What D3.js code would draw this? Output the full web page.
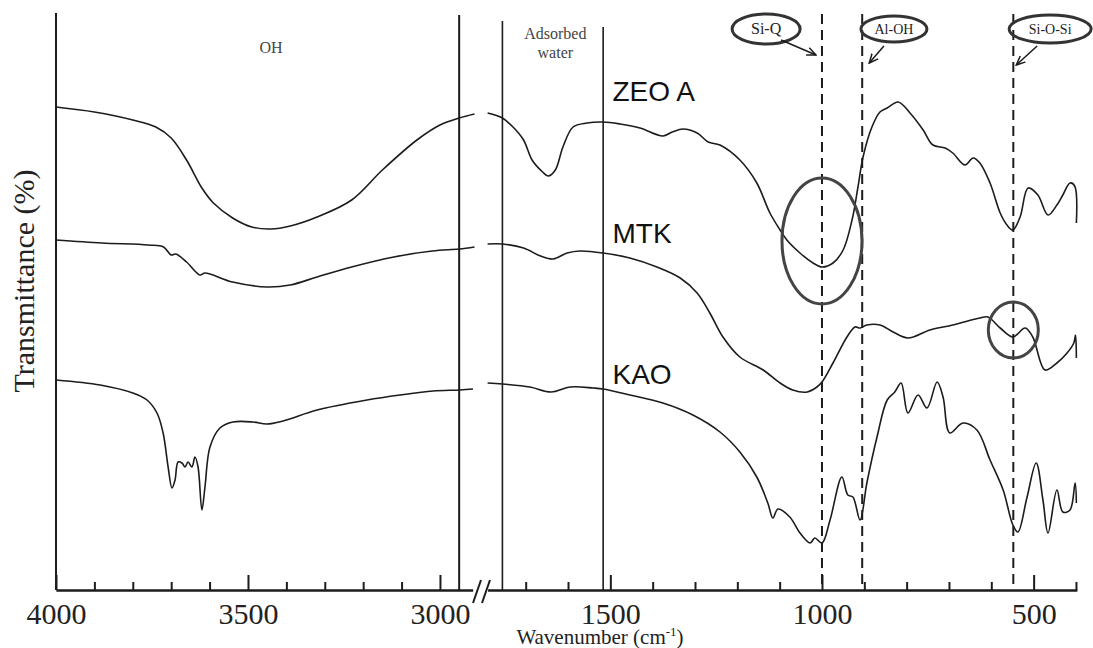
<!DOCTYPE html>
<html>
<head>
<meta charset="utf-8">
<script src="https://cdnjs.cloudflare.com/ajax/libs/d3/7.8.5/d3.min.js"></script>
<style>
  body { margin: 0; background: #fff; }
  svg { display: block; }
</style>
</head>
<body>
<div id="chart"></div>
<script>
// FTIR spectra, [wavenumber cm-1, transmittance (offset, a.u.)]
const zeoLeft = [[4000,48.3],[3900,47.8],[3800,47.0],[3740,46.3],[3700,45.2],[3660,43.0],[3620,40.2],[3590,38.7],[3540,37.2],[3490,36.3],[3440,36.1],[3390,36.4],[3320,37.3],[3230,39.0],[3150,42.0],[3060,45.0],[3000,46.5],[2950,47.2],[2910,47.6]];
const mtkLeft = [[4000,35.0],[3880,34.7],[3760,34.5],[3720,34.3],[3700,33.5],[3688,33.6],[3660,32.8],[3625,31.5],[3612,31.7],[3540,30.8],[3450,30.3],[3390,30.5],[3320,31.3],[3230,32.3],[3120,33.3],[3020,33.9],[2950,34.1],[2910,34.3]];
const kaoLeft = [[4000,21.0],[3885,20.5],[3800,19.7],[3763,19.0],[3737,17.7],[3721,15.7],[3708,12.3],[3698,10.2],[3690,11.0],[3682,12.8],[3672,12.7],[3664,12.3],[3656,12.8],[3646,12.3],[3638,13.3],[3630,12.3],[3620,8.0],[3612,10.3],[3599,14.3],[3573,16.2],[3539,16.8],[3487,16.8],[3451,16.6],[3409,16.9],[3320,18.0],[3190,19.0],[3104,19.5],[3018,19.9],[2948,20.0],[2914,20.1]];

const zeoRight = [[1790,47.7],[1755,47.2],[1730,46.3],[1705,45.0],[1685,43.0],[1660,41.8],[1647,41.4],[1630,42.0],[1612,44.3],[1588,46.3],[1555,46.7],[1517,46.8],[1477,46.6],[1430,46.2],[1376,45.4],[1354,45.8],[1328,46.1],[1295,45.7],[1269,44.8],[1241,44.5],[1194,43.0],[1154,40.7],[1123,37.7],[1099,36.0],[1083,35.0],[1052,33.7],[1021,32.7],[1000,32.3],[974,32.7],[950,34.0],[929,37.0],[915,40.3],[903,43.3],[882,46.3],[863,47.8],[846,48.2],[820,48.8],[792,47.7],[761,46.0],[738,44.5],[709,44.2],[691,43.7],[662,42.5],[643,43.2],[627,42.7],[603,40.7],[579,37.7],[563,36.5],[549,36.0],[532,37.3],[513,40.2],[490,39.5],[466,37.5],[445,38.5],[431,39.5],[414,40.7],[403,40.4],[399,36.7]];
const mtkRight = [[1790,34.6],[1755,34.6],[1705,34.2],[1665,33.4],[1635,33.1],[1602,33.7],[1572,33.9],[1517,33.7],[1454,33.2],[1390,32.3],[1335,31.2],[1295,29.7],[1265,27.7],[1234,25.3],[1194,23.3],[1139,22.0],[1099,20.7],[1069,20.0],[1035,19.8],[1012,20.3],[1000,20.8],[974,22.7],[941,25.3],[922,26.3],[910,26.2],[894,26.5],[863,26.5],[832,25.8],[797,25.2],[745,26.0],[691,26.5],[627,27.2],[608,27.3],[579,26.2],[549,25.3],[520,26.2],[502,25.3],[473,22.0],[445,22.7],[421,23.7],[405,24.7],[401,25.5],[399,23.2]];
const kaoRight = [[1790,20.7],[1755,20.6],[1690,20.3],[1640,19.8],[1595,20.3],[1540,20.2],[1517,20.1],[1454,19.5],[1376,18.7],[1305,17.5],[1241,15.8],[1194,13.8],[1154,11.3],[1128,8.7],[1116,7.2],[1104,8.1],[1076,7.3],[1052,5.7],[1028,4.7],[1017,5.2],[1000,4.7],[981,7.0],[953,11.3],[939,9.5],[927,9.3],[910,7.0],[894,10.7],[870,15.3],[846,19.0],[828,19.8],[813,20.7],[797,17.7],[773,19.5],[752,18.2],[728,20.8],[714,19.3],[698,15.7],[667,16.7],[634,16.0],[603,13.0],[572,10.0],[549,6.5],[537,5.8],[516,9.2],[494,12.7],[478,9.0],[466,5.7],[445,10.0],[431,7.8],[414,8.0],[402,10.7],[399,8.7]];

const sampleNames = ["ZEO A", "MTK", "KAO"];
const leftMajor = [4000, 3500, 3000];
const leftMinor = [3900, 3800, 3700, 3600, 3400, 3300, 3200, 3100];
const rightMajor = [1500, 1000, 500];
const rightMinor = [1700, 1600, 1400, 1300, 1200, 1100, 900, 800, 700, 600, 400];
const bandBounds = [2950, 1755, 1517];           // solid region lines
const bandNames = ["OH", "Adsorbed water"];
const peakLines = [1000, 905, 548];              // dashed assignment lines
const peakNames = ["Si-Q", "Al-OH", "Si-O-Si"];

const W = 1093, H = 648;
const svg = d3.select("#chart").append("svg").attr("width", W).attr("height", H);

const y = d3.scaleLinear().domain([0, 58]).range([590, 10]);
const xL = d3.scaleLinear().domain([4000, 2915]).range([56, 472.6]);
const xR = d3.scaleLinear().domain([1790, 398]).range([487.6, 1076.8]);

const serif = "'Liberation Serif', 'Times New Roman', serif";
const sans = "'Liberation Sans', Arial, sans-serif";
const ink = "#1c1c1c";

// axes
function axes(x, major, minor) {
  svg.append("g")
    .attr("transform", "translate(0,590)")
    .call(d3.axisBottom(x).tickValues(minor).tickSize(-8).tickSizeOuter(0).tickFormat(""))
    .call(g => g.selectAll("line, path").attr("stroke", ink).attr("stroke-width", 2));
  svg.append("g")
    .attr("transform", "translate(0,590)")
    .call(d3.axisBottom(x).tickValues(major).tickSize(-15).tickSizeOuter(0).tickPadding(13).tickFormat(d3.format("d")))
    .call(g => g.selectAll("line, path").attr("stroke", ink).attr("stroke-width", 2))
    .call(g => g.selectAll("text")
      .style("font-family", serif).style("font-size", "30px").attr("fill", "#222"));
}
axes(xL, leftMajor, leftMinor);
axes(xR, rightMajor, rightMinor);

// axis break
[0, 9].forEach(dx => {
  svg.append("line")
    .attr("x1", 473 + dx).attr("y1", 603).attr("x2", 481 + dx).attr("y2", 580)
    .attr("stroke", ink).attr("stroke-width", 2);
});

// left y axis + region boundaries
svg.append("line").attr("x1", xL(4000)).attr("x2", xL(4000)).attr("y1", 13).attr("y2", 590)
  .attr("stroke", ink).attr("stroke-width", 2);
svg.append("line").attr("x1", xL(bandBounds[0])).attr("x2", xL(bandBounds[0])).attr("y1", 15).attr("y2", 590)
  .attr("stroke", ink).attr("stroke-width", 2);
[[bandBounds[1], 21], [bandBounds[2], 27]].forEach(([w, top]) => {
  svg.append("line").attr("x1", xR(w)).attr("x2", xR(w)).attr("y1", top).attr("y2", 590)
    .attr("stroke", ink).attr("stroke-width", 1.6);
});
peakLines.forEach(w => {
  svg.append("line").attr("x1", xR(w)).attr("x2", xR(w)).attr("y1", 14).attr("y2", 590)
    .attr("stroke", ink).attr("stroke-width", 2).attr("stroke-dasharray", "10,6");
});

// spectra
const lineL = d3.line().x(d => xL(d[0])).y(d => y(d[1])).curve(d3.curveCatmullRom.alpha(0.5));
const lineR = d3.line().x(d => xR(d[0])).y(d => y(d[1])).curve(d3.curveCatmullRom.alpha(0.5));
[zeoLeft, mtkLeft, kaoLeft].forEach(s => {
  svg.append("path").datum(s).attr("d", lineL).attr("fill", "none").attr("stroke", ink).attr("stroke-width", 1.6);
});
[zeoRight, mtkRight, kaoRight].forEach(s => {
  svg.append("path").datum(s).attr("d", lineR).attr("fill", "none").attr("stroke", ink).attr("stroke-width", 1.6);
});

// sample names
[48.9, 34.7, 20.6].forEach((v, i) => {
  svg.append("text").attr("x", xR(1495)).attr("y", y(v))
    .style("font-family", sans).style("font-size", "28px").attr("fill", "#111")
    .text(sampleNames[i]);
});

// region labels
svg.append("text").attr("x", xL(3440)).attr("y", 53).attr("text-anchor", "middle")
  .style("font-family", serif).style("font-size", "16px").attr("fill", "#444").text(bandNames[0]);
bandNames[1].split(" ").forEach((t, i) => {
  svg.append("text").attr("x", xR(1630)).attr("y", 39 + i * 19).attr("text-anchor", "middle")
    .style("font-family", serif).style("font-size", "16px").attr("fill", "#444").text(t);
});

// highlight ellipses on the spectra
svg.append("ellipse").attr("cx", xR(1000)).attr("cy", y(34.9)).attr("rx", 40).attr("ry", 63)
  .attr("fill", "none").attr("stroke", "#444").attr("stroke-width", 3);
svg.append("ellipse").attr("cx", xR(548)).attr("cy", y(26)).attr("rx", 25).attr("ry", 28)
  .attr("fill", "none").attr("stroke", "#444").attr("stroke-width", 3);

// assignment labels with arrows
svg.append("defs").append("marker")
  .attr("id", "arr").attr("viewBox", "0 -5 10 10").attr("refX", 9).attr("refY", 0)
  .attr("markerUnits", "userSpaceOnUse").attr("markerWidth", 10).attr("markerHeight", 10)
  .attr("orient", "auto")
  .append("path").attr("d", "M0,-4L9,0L0,4").attr("fill", "none").attr("stroke", ink).attr("stroke-width", 1.5);

const tags = [
  {wn: 1132, rx: 34, ry: 15, fs: 16, from: [15, 11], to: [-6, 55]},
  {wn: 830, rx: 33, ry: 13, fs: 14, from: [-10, 17], to: [7, 63]},
  {wn: 461, rx: 41, ry: 14, fs: 14, from: [-13, 17], to: [3, 65]}
];
tags.forEach((t, i) => {
  const cx = xR(t.wn), cy = 29;
  svg.append("ellipse").attr("cx", cx).attr("cy", cy).attr("rx", t.rx).attr("ry", t.ry)
    .attr("fill", "none").attr("stroke", "#333").attr("stroke-width", 3);
  svg.append("text").attr("x", cx).attr("y", cy + t.fs * 0.33).attr("text-anchor", "middle")
    .style("font-family", serif).style("font-size", t.fs + "px").attr("fill", "#222").text(peakNames[i]);
  svg.append("line")
    .attr("x1", cx + t.from[0]).attr("y1", cy + t.from[1])
    .attr("x2", xR(peakLines[i]) + t.to[0]).attr("y2", t.to[1])
    .attr("stroke", ink).attr("stroke-width", 1.5).attr("marker-end", "url(#arr)");
});

// axis titles
svg.append("text").attr("transform", "translate(34,281) rotate(-90)").attr("text-anchor", "middle")
  .style("font-family", serif).style("font-size", "30px").attr("fill", "#222").text("Transmittance (%)");
const xt = svg.append("text").attr("x", 600).attr("y", 644).attr("text-anchor", "middle")
  .style("font-family", serif).style("font-size", "21px").attr("fill", "#222");
xt.append("tspan").text("Wavenumber (cm");
xt.append("tspan").style("font-size", "13px").attr("dy", -8).text("-1");
xt.append("tspan").attr("dy", 8).text(")");
</script>
</body>
</html>
